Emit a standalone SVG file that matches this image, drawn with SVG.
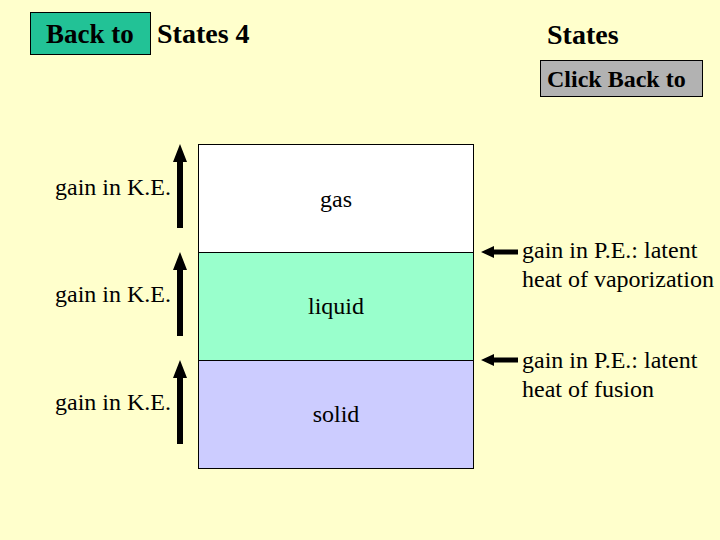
<svg xmlns="http://www.w3.org/2000/svg" width="720" height="540" viewBox="0 0 720 540">
<style>
text{font-family:'Liberation Serif','Times New Roman','DejaVu Serif',serif;fill:#000}
.b{font-weight:bold}
.arr{fill:#000}
</style>
<rect x="0" y="0" width="720" height="540" fill="#FFFFCC"/>
<g id="back-button">
<rect x="30.5" y="12.5" width="120" height="42" fill="#22C296" stroke="#000" stroke-width="1"/>
<text class="b" x="46" y="43" font-size="27">Back to</text>
</g>
<g id="title-left"><text class="b" x="157" y="43" font-size="28">States 4</text></g>
<g id="title-right"><text class="b" x="547" y="44" font-size="28">States</text></g>
<g id="click-button">
<rect x="540.5" y="60.5" width="162" height="36" fill="#B2B2B2" stroke="#000" stroke-width="1"/>
<text class="b" x="547" y="87" font-size="24">Click Back to</text>
</g>
<g id="gas">
<rect x="198.5" y="144.5" width="275" height="108" fill="#FFFFFF" stroke="#000" stroke-width="1"/>
<text x="336" y="207" font-size="24" text-anchor="middle">gas</text>
</g>
<g id="liquid">
<rect x="198.5" y="252.5" width="275" height="108" fill="#99FFCC" stroke="#000" stroke-width="1"/>
<text x="336" y="314" font-size="24" text-anchor="middle">liquid</text>
</g>
<g id="solid">
<rect x="198.5" y="360.5" width="275" height="108" fill="#CCCCFF" stroke="#000" stroke-width="1"/>
<text x="336" y="422" font-size="24" text-anchor="middle">solid</text>
</g>
<g id="labels-ke">
<text x="55" y="195" font-size="24">gain in K.E.</text>
<text x="55" y="302" font-size="24">gain in K.E.</text>
<text x="55" y="410" font-size="24">gain in K.E.</text>
</g>
<g id="labels-pe">
<text x="522" y="258" font-size="24">gain in P.E.: latent</text>
<text x="522" y="287" font-size="24">heat of vaporization</text>
<text x="522" y="368" font-size="24">gain in P.E.: latent</text>
<text x="522" y="397" font-size="24">heat of fusion</text>
</g>
<g id="connectors">
<polygon class="arr" points="180,144 187,162 183,162 183,228 177,228 177,162 173,162"/>
<polygon class="arr" points="180,252 187,270 183,270 183,336 177,336 177,270 173,270"/>
<polygon class="arr" points="180,360 187,378 183,378 183,444 177,444 177,378 173,378"/>
<polygon class="arr" points="481,252 494,246 494,249.5 518,249.5 518,254.5 494,254.5 494,258"/>
<polygon class="arr" points="481,360 494,354 494,357.5 518,357.5 518,362.5 494,362.5 494,366"/>
</g>
</svg>
